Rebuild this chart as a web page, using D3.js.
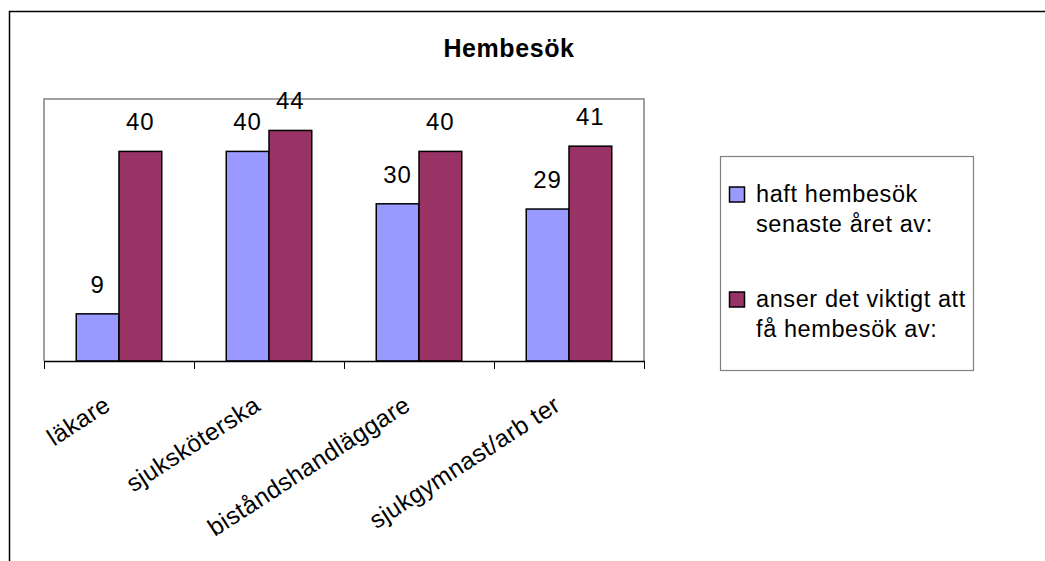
<!DOCTYPE html>
<html><head><meta charset="utf-8">
<script src="https://cdn.jsdelivr.net/npm/d3@7"></script>
<style>
body{margin:0;background:#fff;}
svg{display:block;font-family:Arial,"Liberation Sans",sans-serif;}
</style></head>
<body><svg id="c" width="1045" height="561"></svg>
<script>
const categories = ["läkare","sjuksköterska","biståndshandläggare","sjukgymnast/arb ter"];
const seriesNames = [["haft hembesök","senaste året av:"],["anser det viktigt att","få hembesök av:"]];
const hadVisit = [9,40,30,29];
const important = [40,44,40,41];
const colors = ["#9999FF","#993366"];
const title = "Hembesök";

const svg = d3.select("#c");
svg.append("rect").attr("width",1045).attr("height",561).attr("fill","#fff");
// outer frame
svg.append("rect").attr("x",9.5).attr("y",11.5).attr("width",1100).attr("height",700)
  .attr("fill","none").attr("stroke","#000").attr("stroke-width",1.5);

const L=44,T=99,R=644,B=361;
const x0=d3.scaleBand().domain(categories).range([L,R]).paddingInner(0.43).paddingOuter(0.215);
const x1=d3.scaleBand().domain([0,1]).range([0,x0.bandwidth()]);
const y=d3.scaleLinear().domain([0,50]).range([B,T]);

// plot area border
svg.append("path").attr("d",`M${L},${B}V${T}H${R}V${B}`).attr("fill","none").attr("stroke","#808080").attr("stroke-width",1.5);

const series=[hadVisit,important];
series.forEach((vals,si)=>{
  const g=svg.append("g");
  g.selectAll("rect").data(vals).join("rect")
    .attr("x",(d,i)=>x0(categories[i])+x1(si))
    .attr("y",d=>y(d))
    .attr("width",x1.bandwidth())
    .attr("height",d=>B-y(d))
    .attr("fill",colors[si]).attr("stroke","#000").attr("stroke-width",1.5);
  g.selectAll("text").data(vals).join("text")
    .attr("x",(d,i)=>x0(categories[i])+x1(si)+x1.bandwidth()/2)
    .attr("y",d=>y(d)-21)
    .attr("text-anchor","middle").attr("font-size",24).attr("letter-spacing",1)
    .text(d=>d);
});

// x axis
const xi=d3.scaleLinear().domain([0,categories.length]).range([L,R]);
const ax=svg.append("g").attr("transform",`translate(0,${B})`)
  .call(d3.axisBottom(xi).tickValues(d3.range(categories.length+1)).tickFormat("").tickSize(8).tickSizeOuter(0));
ax.select(".domain").attr("stroke","#000").attr("stroke-width",1.5);
ax.selectAll(".tick line").attr("stroke","#000");

svg.append("g").selectAll("text").data(categories).join("text")
  .attr("transform",d=>`translate(${x0(d)+x0.bandwidth()/2-7},409) rotate(-33)`)
  .attr("text-anchor","end").attr("font-size",24.5).attr("letter-spacing",0.4)
  .text(d=>d);

// title
svg.append("text").attr("x",509).attr("y",56.5).attr("text-anchor","middle")
  .attr("font-size",25).attr("font-weight","bold").attr("letter-spacing",0.6).text(title);

// legend
svg.append("rect").attr("x",720.5).attr("y",156.5).attr("width",253).attr("height",214)
  .attr("fill","#fff").attr("stroke","#808080").attr("stroke-width",1.2);
const legY=[202,307];
seriesNames.forEach((lines,i)=>{
  svg.append("rect").attr("x",729.5).attr("y",legY[i]-15).attr("width",15).attr("height",15)
    .attr("fill",colors[i]).attr("stroke","#000").attr("stroke-width",1.5);
  const t=svg.append("text").attr("x",756).attr("y",legY[i]).attr("font-size",23.5).attr("letter-spacing",0.6);
  lines.forEach((ln,j)=>t.append("tspan").attr("x",756).attr("dy",j?30:0).text(ln));
});
</script></body></html>
